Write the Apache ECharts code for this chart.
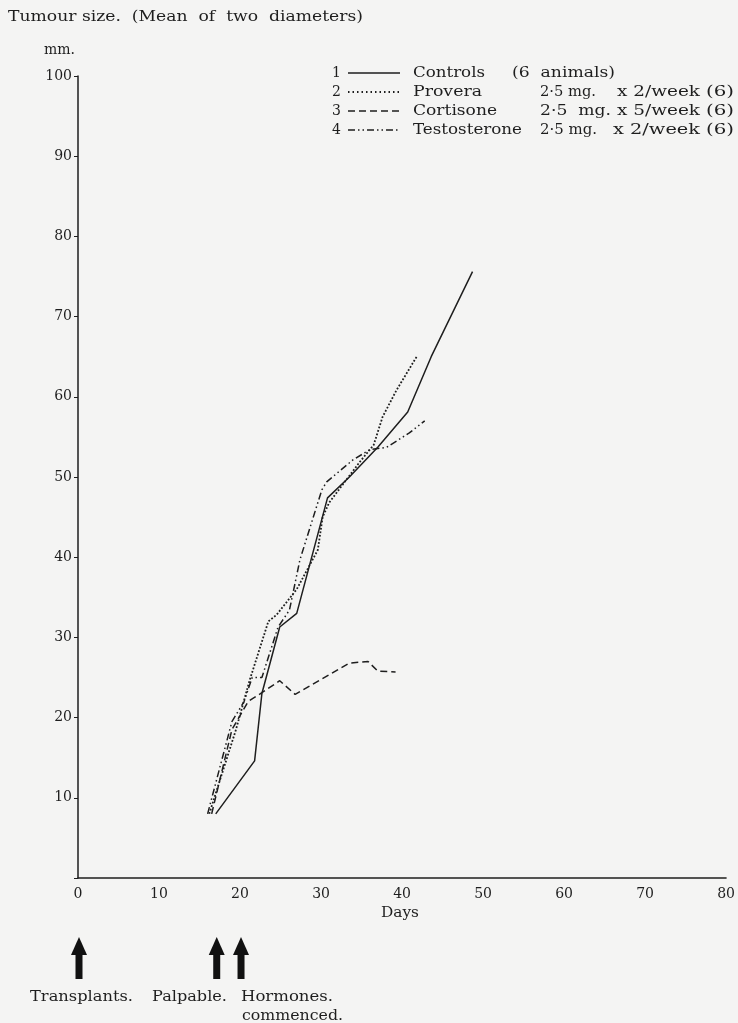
<!DOCTYPE html>
<html>
<head>
<meta charset="utf-8">
<script src="https://cdn.jsdelivr.net/npm/echarts@6/dist/echarts.min.js"></script>
<style>
html,body{margin:0;padding:0;background:#f4f4f3;}
#c{width:738px;height:1023px;}
</style>
</head>
<body>
<div id="c"></div>
<script>
// ---- data ----
var controls = [[17,8],[21.8,14.6],[22.7,23],[24.9,31.3],[27,33],[30.8,47.4],[33.5,50],[37,53.7],[40.7,58.1],[43.6,65],[48.7,75.6]];
var provera = [[16.2,8],[19.5,18.5],[21.2,24.7],[23.5,32],[24.5,32.8],[27,36],[29.6,40.9],[30.2,45],[31,46.8],[34.8,51.9],[36.5,54],[37.6,57.5],[39.3,60.8],[41.8,65]];
var cortisone = [[16.5,8],[19,18.5],[21,22],[22.7,23.1],[24.9,24.6],[26.8,22.9],[33.5,26.8],[35.8,27],[37,25.8],[39.2,25.7]];
var testosterone = [[16,8],[19,19.5],[20.5,22],[21.5,25],[22.7,25],[24.7,31.3],[26.1,33.4],[27.4,39.7],[30.1,48.4],[30.7,49.4],[33.9,52.1],[36,53.4],[38.1,53.7],[40.9,55.5],[42.8,57]];
var xTicks = [0,10,20,30,40,50,60,70,80];
var yTicks = [0,10,20,30,40,50,60,70,80,90,100];
var legendNums = ['1','2','3','4'];
var legendNames = ['Controls','Provera','Cortisone','Testosterone'];
var legendDose = ['(6  animals)','2\u00b75 mg.','2\u00b75  mg.','2\u00b75 mg.'];
var legendFreq = ['','x 2/week','x 5/week','x 2/week'];
var legendN = ['','(6)','(6)','(6)'];
var arrowDays = [0,17,20];
var arrowLabels = ['Transplants.','Palpable.','Hormones.'];
var arrowLabel2 = 'commenced.';
var yTitle = 'Tumour size.  (Mean  of  two  diameters)';
var yUnit = 'mm.';
var xName = 'Days';

var FONT = 'DejaVu Serif';
var INK = '#1e1e1e';
var lineTypes = ['solid','dotted',[7,4],[7,3,1.5,3,1.5,3]];
var seriesData = [controls, provera, cortisone, testosterone];

var chart = echarts.init(document.getElementById('c'), null, {renderer:'canvas'});

var series = seriesData.map(function(d,i){
  return {
    type:'line', name:legendNames[i], data:d, symbol:'none', animation:false,
    lineStyle:{color:INK, width: i===1 ? 1.8 : 1.5, type:lineTypes[i]}
  };
});

chart.setOption({
  backgroundColor:'#f4f4f3',
  animation:false,
  grid:{left:78, right:11, top:76, bottom:145},
  xAxis:{
    type:'value', min:0, max:80, interval:10,
    axisLine:{lineStyle:{color:INK, width:1.5}},
    axisTick:{show:false},
    splitLine:{show:false},
    axisLabel:{color:INK, fontFamily:FONT, fontSize:14, margin:9}
  },
  yAxis:{
    type:'value', min:0, max:100, interval:10,
    axisLine:{show:true, lineStyle:{color:INK, width:1.5}},
    axisTick:{show:true, inside:false, length:4, lineStyle:{color:INK}},
    splitLine:{show:false},
    axisLabel:{color:INK, fontFamily:FONT, fontSize:14, margin:6,
      formatter:function(v){return v===0?'':String(v);}}
  },
  series:series
});

// text helper: place text between x0 and x1 (stretched horizontally to fit)
var mctx = document.createElement('canvas').getContext('2d');
function txt(s, x0, x1, yc, size){
  size = size || 15;
  var font = size + 'px "' + FONT + '"';
  mctx.font = font;
  var w = mctx.measureText(s).width;
  var sx = x1 ? (x1 - x0) / w : 1;
  return {type:'text', x:x0, y:yc, scaleX:sx, scaleY:1,
    style:{text:s, font:font, fill:INK, verticalAlign:'middle', align:'left'}};
}

var g = [];
g.push(txt(yTitle, 8, 363, 17));
g.push(txt(yUnit, 44, 75, 50));
g.push(txt(xName, 381, 419, 913));

var rowY = [73,92,111,130];
var doseX = [[512,615],[540,596],[540,611],[540,597]];
var freqX = [null,[617,700],[617,700],[613,700]];
var nameEnd = [485,482,497,522];
for (var i=0;i<4;i++){
  var y = rowY[i];
  g.push(txt(legendNums[i], 332, 0, y, 14));
  g.push({type:'line', shape:{x1:348,y1:y,x2:400,y2:y}, style:{stroke:INK, lineWidth:i===1?1.8:1.5, lineDash: i===0?null:(i===1?[1.5,3]:lineTypes[i])}});
  g.push(txt(legendNames[i], 413, nameEnd[i], y));
  g.push(txt(legendDose[i], doseX[i][0], doseX[i][1], y, i===0?15:14));
  if (legendFreq[i]) g.push(txt(legendFreq[i], freqX[i][0], freqX[i][1], y));
  if (legendN[i]) g.push(txt(legendN[i], 706, 734, y));
}

arrowDays.forEach(function(d){
  var px = chart.convertToPixel({xAxisIndex:0}, d) + 1;
  g.push({type:'polygon', shape:{points:[[px,937],[px-8,955],[px+8,955]]}, style:{fill:'#111'}});
  g.push({type:'rect', shape:{x:px-3.5, y:954, width:7, height:25}, style:{fill:'#111'}});
});
var labelX = [[30,133],[152,227],[241,333]];
arrowLabels.forEach(function(t,i){
  g.push(txt(t, labelX[i][0], labelX[i][1], 997));
});
g.push(txt(arrowLabel2, 242, 343, 1016));

chart.setOption({graphic:g});
</script>
</body>
</html>
